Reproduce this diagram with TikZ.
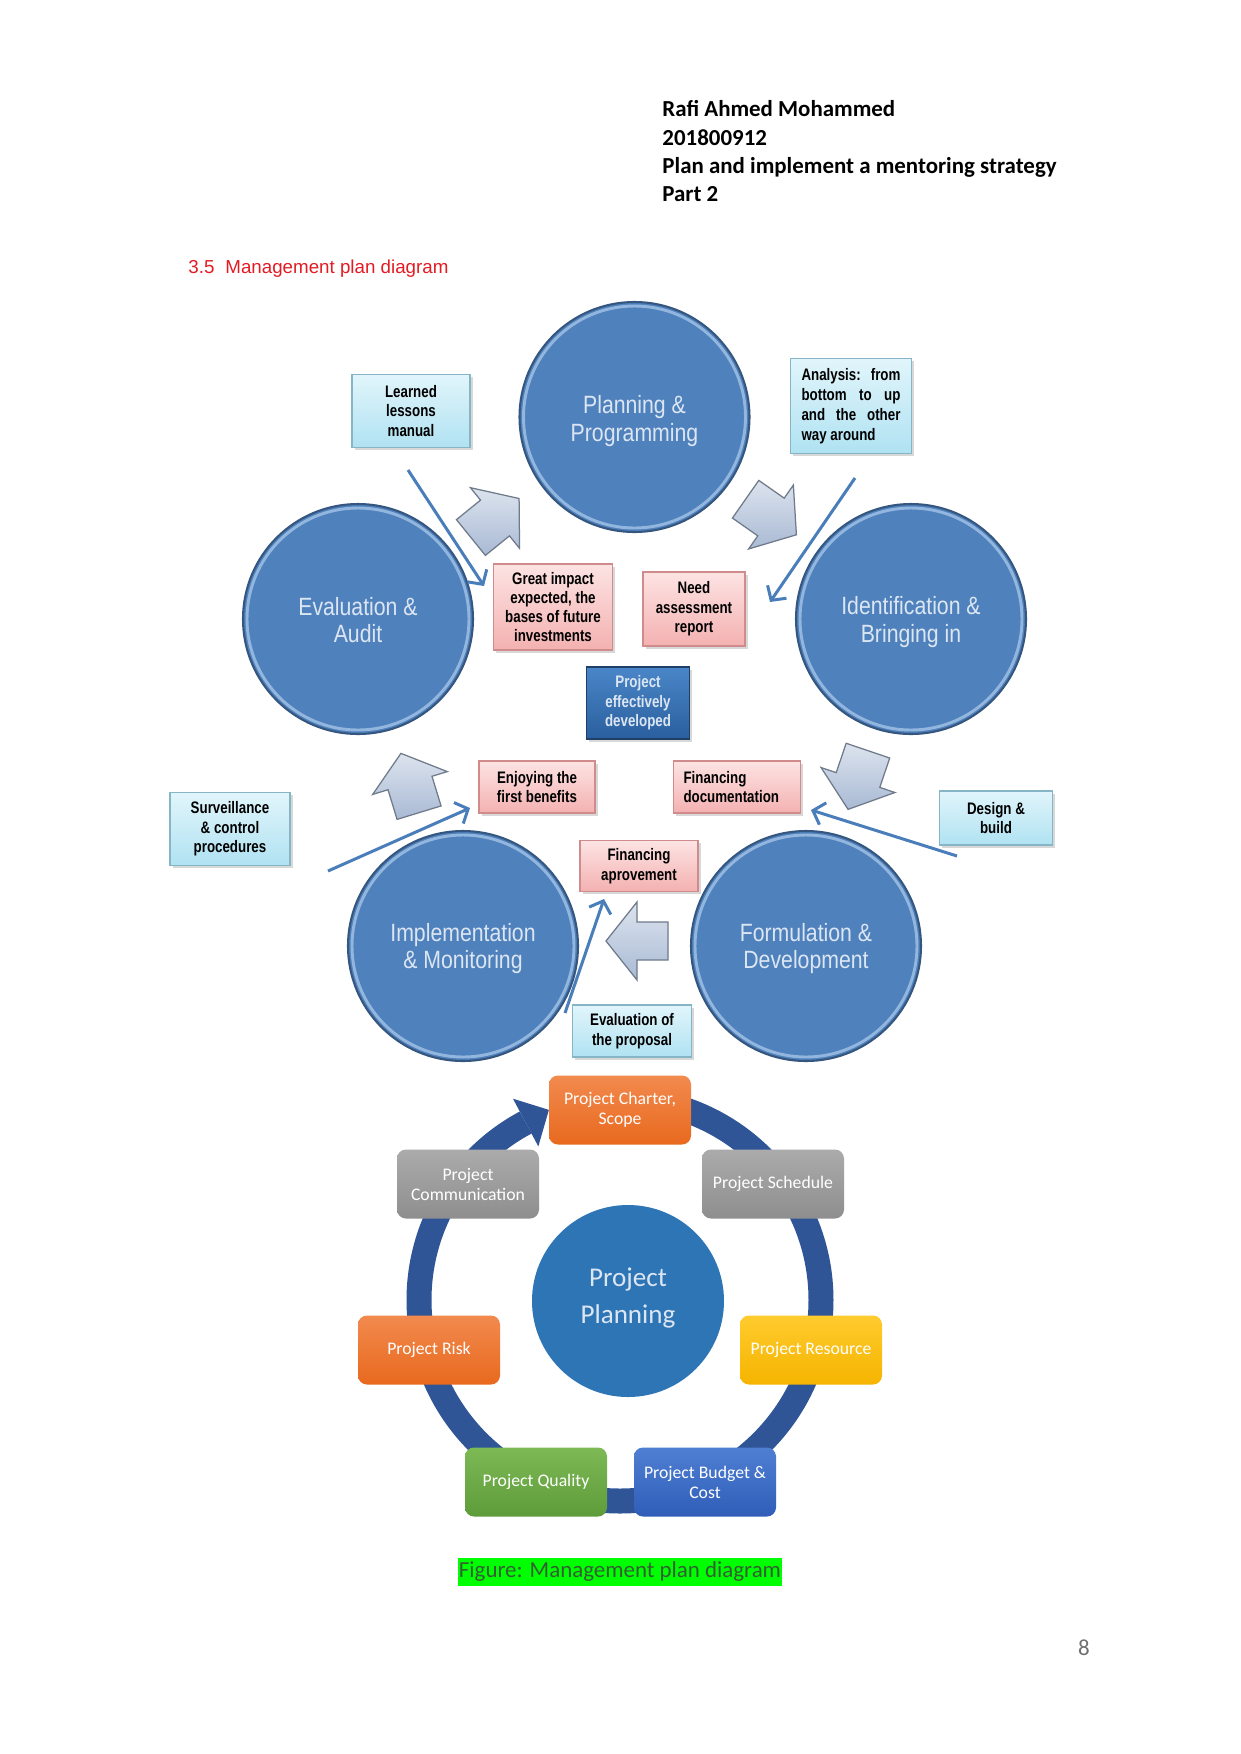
\documentclass[tikz,border=0pt]{standalone}
\usepackage{fontspec}
\setmainfont{Carlito}
\newfontfamily\arialfont{Liberation Sans}
\newfontfamily\narrowfont[FakeStretch=0.85]{Liberation Sans}
\newfontfamily\narrowbfont[FakeStretch=0.80]{Liberation Sans}
\usetikzlibrary{shadows,arrows.meta,calc}
\newcommand\pxu[1]{#1*0.48pt}
\newcommand\fsz[2]{\fontsize{#1pt}{#2pt}\selectfont}
\definecolor{headred}{HTML}{E31B23}
\definecolor{circfill}{HTML}{4F81BD}
\definecolor{circedge}{HTML}{34567F}
\definecolor{circtext}{HTML}{DCE6F2}
\definecolor{rimcol}{HTML}{A9C8EA}
\definecolor{cyanT}{HTML}{E1F5FB}
\definecolor{cyanB}{HTML}{B0E2F2}
\definecolor{cyanE}{HTML}{86B6C6}
\definecolor{pinkT}{HTML}{FDE3E3}
\definecolor{pinkB}{HTML}{F4B1B1}
\definecolor{pinkE}{HTML}{D08C8C}
\definecolor{blueT}{HTML}{4A86C8}
\definecolor{blueB}{HTML}{2A5F9E}
\definecolor{blueE}{HTML}{1F3F66}
\definecolor{arrT}{HTML}{DCE3EE}
\definecolor{arrB}{HTML}{A9BAD4}
\definecolor{arrE}{HTML}{6F7A8A}
\definecolor{lineblue}{HTML}{4A7EBB}
\definecolor{ringcol}{HTML}{2F5597}
\definecolor{ppfill}{HTML}{2E75B6}
\definecolor{orT}{HTML}{F28A4E}
\definecolor{orB}{HTML}{E8691E}
\definecolor{grT}{HTML}{ABABAB}
\definecolor{grB}{HTML}{8E8E8E}
\definecolor{yeT}{HTML}{FFCB2E}
\definecolor{yeB}{HTML}{F5B400}
\definecolor{gnT}{HTML}{7DB955}
\definecolor{gnB}{HTML}{5E9C3A}
\definecolor{buT}{HTML}{4F7FD3}
\definecolor{buB}{HTML}{2F5DB8}
\definecolor{hlgreen}{HTML}{00FF00}
\definecolor{captext}{HTML}{355E35}
\definecolor{pagegray}{HTML}{707070}
\newcommand\barrow[4]{%
  \begin{scope}[shift={(#1,#2)}, rotate=#3]
    \path[blockarr] (-31,-#4) -- (0,-#4) -- (0,-39) -- (31,0) -- (0,39) -- (0,#4) -- (-31,#4) -- cycle;
  \end{scope}}
\begin{document}
\begin{tikzpicture}[x=0.48pt,y=-0.48pt,
  bigcirc/.style={circle, fill=circfill, draw=circedge, line width=1pt, minimum size=\pxu{230}, inner sep=0pt},
  circlabel/.style={inner sep=0pt, align=center, text=circtext, font=\narrowfont\fsz{12}{13}},
  rim/.style={draw=rimcol, line width=1.4pt, opacity=0.75},
  boxbase/.style={rectangle, inner sep=0pt, align=center, line width=0.6pt, font=\narrowbfont\bfseries\fsz{8}{9.4}, drop shadow={shadow xshift=1.2pt, shadow yshift=-1.2pt, opacity=0.3}},
  cyanbox/.style={boxbase, top color=cyanT, bottom color=cyanB, draw=cyanE},
  pinkbox/.style={boxbase, top color=pinkT, bottom color=pinkB, draw=pinkE},
  bluebox/.style={boxbase, top color=blueT, bottom color=blueB, draw=blueE, text=circtext},
  blockarr/.style={draw=arrE, line width=0.6pt, top color=arrT, bottom color=arrB, line join=miter},
  thinarr/.style={draw=lineblue, line width=\pxu{3}, -{Straight Barb[length=5pt, width=11pt]}},
  ringline/.style={draw=ringcol, line width=\pxu{25}},
  pbox/.style={rectangle, rounded corners=\pxu{9}, minimum width=\pxu{142}, minimum height=\pxu{69}, inner sep=0pt, align=center, text=white, font=\fsz{8.5}{9.6}},
  hdr/.style={anchor=base west, inner sep=0pt, font=\bfseries\fsz{11}{13.4}}
]
\fill[white] (0,0) rectangle (1241,1754);
\useasboundingbox (0,0) rectangle (1241,1754);

% header
\node[hdr] (h1) at (662,116.7) {Rafi Ahmed Mohammed};
\node[hdr] (h2) at (662,145.5) {201800912};
\node[hdr] (h3) at (662,173.3) {Plan and implement a mentoring strategy};
\node[hdr] (h4) at (662,201.5) {Part 2};

% section heading
\node[anchor=base west, inner sep=0pt, font=\arialfont\fsz{9}{11}, text=headred] (secn) at (188,273) {3.5};
\node[anchor=base west, inner sep=0pt, font=\arialfont\fsz{9}{11}, text=headred] (sect) at (225,273) {Management plan diagram};

% big circles
\node[bigcirc] (c1) at (634.5,417) {};
\node[bigcirc] (c2) at (911,619) {};
\node[bigcirc] (c3) at (806,946) {};
\node[bigcirc] (c4) at (463,946) {};
\node[bigcirc] (c5) at (358,619) {};
\foreach \c in {c1,c2,c3,c4,c5} {\draw[rim] (\c.center) circle[radius=111];}
\node[circlabel] (c1t) at ($(c1)+(0,4)$) {Planning \&\\Programming};
\node[circlabel] (c2t) at ($(c2)+(0,3)$) {Identification \&\\Bringing in};
\node[circlabel] (c3t) at ($(c3)+(0,2.5)$) {Formulation \&\\Development};
\node[circlabel] (c4t) at ($(c4)+(0,2.5)$) {Implementation\\\& Monitoring};
\node[circlabel] (c5t) at ($(c5)+(0,1)$) {Evaluation \&\\Audit};

% block arrows
\barrow{495}{518}{39}{23}
\barrow{771}{517}{-35}{23}
\barrow{858}{780}{-108.7}{23}
\barrow{637}{941}{180}{19}
\barrow{410}{783}{107}{23}

% cyan boxes
\node[cyanbox, minimum width=\pxu{118}, minimum height=\pxu{73}] (learn) at (411,411) {Learned\\lessons\\manual};
\node[cyanbox, minimum width=\pxu{121}, minimum height=\pxu{95}, font=\narrowbfont\bfseries\fsz{8}{9.6}] (anal) at (851,406)
  {\makebox[47.5pt][s]{Analysis: from}\\\makebox[47.5pt][s]{bottom to up}\\\makebox[47.5pt][s]{and the other}\\\makebox[47.5pt][l]{way around}};
\node[cyanbox, minimum width=\pxu{120}, minimum height=\pxu{73}] (surv) at (230,829) {Surveillance\\\& control\\procedures};
\node[cyanbox, minimum width=\pxu{113}, minimum height=\pxu{54}] (design) at (996,818) {Design \&\\build};
\node[cyanbox, minimum width=\pxu{119}, minimum height=\pxu{52}] (evalp) at (632,1031) {Evaluation of\\the proposal};

% pink boxes
\node[pinkbox, minimum width=\pxu{119}, minimum height=\pxu{86}, font=\narrowbfont\bfseries\fsz{8}{9}] (great) at (553,607) {Great impact\\expected, the\\bases of future\\investments};
\node[pinkbox, minimum width=\pxu{102}, minimum height=\pxu{74}] (need) at (694,609) {Need\\assessment\\report};
\node[pinkbox, minimum width=\pxu{116}, minimum height=\pxu{52}] (enjoy) at (537,787) {Enjoying the\\first benefits};
\node[pinkbox, text width=\pxu{107}, inner xsep=\pxu{10}, align=left, minimum height=\pxu{52}] (findoc) at (737,787) {Financing\\documentation};
\node[pinkbox, minimum width=\pxu{118}, minimum height=\pxu{51}] (finapp) at (639,866) {Financing\\aprovement};

% blue box
\node[bluebox, minimum width=\pxu{103}, minimum height=\pxu{72}] (projdev) at (638,703) {Project\\effectively\\developed};

% thin arrows
\coordinate (t1s) at (408,470); \coordinate (t1e) at (484,586);
\coordinate (t2s) at (855,478); \coordinate (t2e) at (770,602);
\coordinate (t3s) at (328,871); \coordinate (t3e) at (470,808);
\coordinate (t4s) at (957,856); \coordinate (t4e) at (811,810);
\coordinate (t5s) at (565,1013); \coordinate (t5e) at (604,899);
\draw[thinarr] (t1s) -- (t1e);
\draw[thinarr] (t2s) -- (t2e);
\draw[thinarr] (t3s) -- (t3e);
\draw[thinarr] (t4s) -- (t4e);
\draw[thinarr] (t5s) -- (t5e);

% bottom cycle
\coordinate (rc) at (620,1300);
\draw[ringline] ($(rc)+(-90:201)$) arc[start angle=-90, end angle=242, radius=201];
\fill[ringcol] ($(rc)+(242:228)$) -- ($(rc)+(249.5:203)$) -- ($(rc)+(242:174)$) -- cycle;

\node[circle, fill=ppfill, minimum size=\pxu{192}, inner sep=0pt] (pp) at (628,1301) {};
\node[inner sep=0pt, align=center, text=circtext, font=\fsz{13}{17.3}] (ppt) at ($(pp)+(0,-3)$) {Project\\Planning};

\node[pbox, top color=orT, bottom color=orB] (charter) at (620,1110) {Project Charter,\\Scope};
\node[pbox, top color=grT, bottom color=grB] (sched) at (773,1184) {Project Schedule};
\node[pbox, top color=grT, bottom color=grB] (comm) at (468,1184) {Project\\Communication};
\node[pbox, top color=orT, bottom color=orB] (risk) at (429,1350) {Project Risk};
\node[pbox, top color=yeT, bottom color=yeB] (resource) at (811,1350) {Project Resource};
\node[pbox, top color=gnT, bottom color=gnB] (quality) at (536,1482) {Project Quality};
\node[pbox, top color=buT, bottom color=buB] (budget) at (705,1482) {Project Budget \&\\Cost};

% caption
\node[fill=hlgreen, inner xsep=0.5pt, inner ysep=0pt, minimum height=\pxu{28}, text height=8pt, text depth=2.5pt, text=captext, font=\fsz{11}{13.4}] (cap) at (620,1572) {Figure: Management plan diagram};

% page number
\node[anchor=base, inner sep=0pt, text=pagegray, font=\fsz{11}{13}] (pg) at (1084,1655) {8};
\end{tikzpicture}
\end{document}
